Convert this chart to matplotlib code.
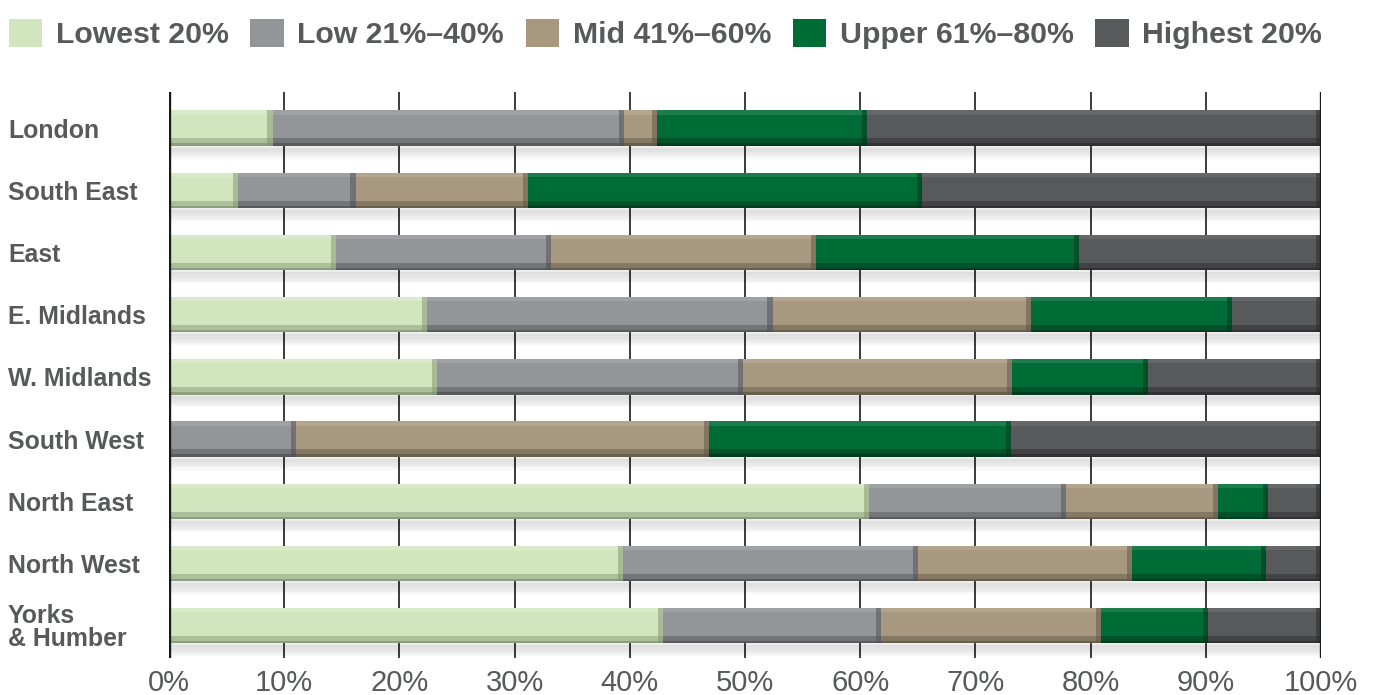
import matplotlib
matplotlib.use("Agg")
import matplotlib.pyplot as plt
import numpy as np
from matplotlib.patches import Patch

regions = ["London", "South East", "East", "E. Midlands", "W. Midlands",
           "South West", "North East", "North West", "Yorks\n& Humber"]
series_names = ["Lowest 20%", "Low 21%\u201340%", "Mid 41%\u201360%",
                "Upper 61%\u201380%", "Highest 20%"]
lowest  = [9.0, 6.0, 14.5, 22.4, 23.3, 0.0, 60.8, 39.4, 42.9]
low     = [30.5, 10.2, 18.7, 30.0, 26.5, 11.0, 17.1, 25.6, 18.9]
mid     = [2.9, 15.0, 23.0, 22.4, 23.4, 35.9, 13.2, 18.6, 19.1]
upper   = [18.2, 34.2, 22.8, 17.5, 11.8, 26.2, 4.3, 11.6, 9.3]
highest = [39.4, 34.6, 21.0, 7.7, 15.0, 26.9, 4.6, 4.8, 9.8]
xticks = [0, 10, 20, 30, 40, 50, 60, 70, 80, 90, 100]
xtick_labels = [f"{t}%" for t in xticks]

colors = ["#D1E6BE", "#949599", "#A89880", "#006C35", "#58595B"]
dark_edges = ["#7E9270", "#4E4F53", "#5E5444", "#00341A", "#2A2A2C"]
light_edges = ["#E0EED3", "#A9AAAE", "#BDAF99", "#2E8A5A", "#707173"]
text_color = "#58595B"

plt.rcParams['font.family'] = ['Liberation Sans', 'DejaVu Sans']

fig = plt.figure(figsize=(13.81, 6.95), dpi=100)
ax = fig.add_axes([169/1381, 1 - 658/695, (1321-169)/1381, (658-92)/695])

y = np.arange(len(regions))
h = 0.57
data = [lowest, low, mid, upper, highest]

# soft shadows beneath bars
totals = np.sum(np.array(data), axis=0)
for k, a in enumerate([0.07, 0.06, 0.05, 0.04, 0.03]):
    ax.barh(y + h/2 + 0.03 + 0.035*k, totals, height=0.07, left=0,
            color="#000000", alpha=a, zorder=2, linewidth=0)

left = np.zeros(len(regions))
for i, vals in enumerate(data):
    vals = np.array(vals)
    ax.barh(y, vals, height=h, left=left, color=colors[i], zorder=3,
            linewidth=0, label=series_names[i])
    # bottom darker strip
    ax.barh(y + h/2 - 0.06, vals, height=0.12, left=left, color=dark_edges[i],
            alpha=0.45, zorder=4, linewidth=0)
    ax.barh(y + h/2 - 0.02, vals, height=0.04, left=left, color=dark_edges[i],
            alpha=0.7, zorder=4, linewidth=0)
    # top highlight strip
    ax.barh(y - h/2 + 0.035, vals, height=0.07, left=left, color=light_edges[i],
            alpha=0.6, zorder=4, linewidth=0)
    # right dark edge
    for yy, l, v in zip(y, left, vals):
        if v > 0:
            w = min(0.45, v)
            ax.barh(yy, w, height=h, left=l + v - w,
                    color=dark_edges[i], alpha=0.5, zorder=4, linewidth=0)
    left = left + vals

ax.set_xlim(0, 100)
ax.set_ylim(len(regions) - 0.48, -0.58)

for t in xticks:
    lw = 2.4 if t in (0, 100) else 1.2
    ax.axvline(t, color="#1a1a1a", linewidth=lw, zorder=1 if t not in (0, 100) else 5)

for s in ax.spines.values():
    s.set_visible(False)

ax.set_xticks(xticks)
ax.set_xticklabels(xtick_labels, fontsize=21, color=text_color)
ax.tick_params(axis='x', length=0, pad=8)
ax.set_yticks(y)
ax.set_yticklabels(regions, fontsize=17.9, fontweight='bold', color=text_color,
                   ha='left', linespacing=0.92)
ax.tick_params(axis='y', length=0, pad=(169 - 8) * 0.72)
for lbl in ax.get_yticklabels():
    lbl.set_y(lbl.get_position()[1])

handles = [Patch(facecolor=c, edgecolor='none') for c in colors]
fig.legend(handles, series_names, loc='upper left', bbox_to_anchor=(-0.009, 1.003),
           ncol=5, frameon=False, prop={'weight': 'bold', 'size': 21.8},
           handlelength=1.1, handleheight=1.05, handletextpad=0.45,
           columnspacing=0.72, labelcolor=text_color, borderaxespad=0.3)

fig.savefig("out.png", dpi=100)
